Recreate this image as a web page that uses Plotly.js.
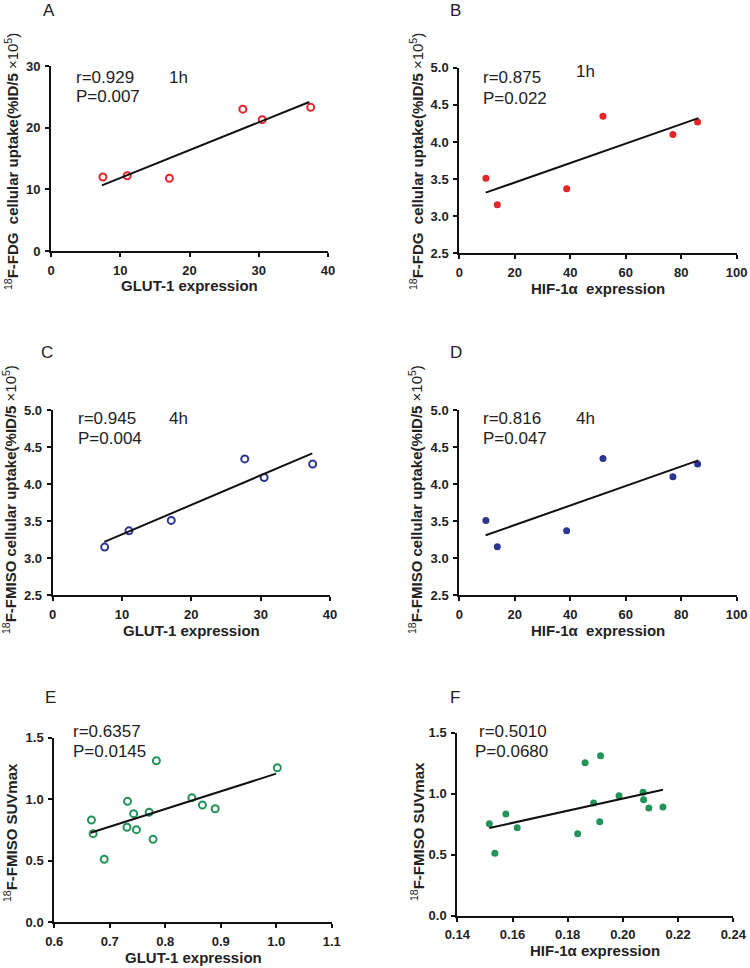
<!DOCTYPE html>
<html>
<head>
<meta charset="utf-8">
<script src="https://cdn.plot.ly/plotly-3.0.1.min.js"></script>
<style>
  body { margin: 0; background: #fff; }
  #chart { width: 750px; height: 968px; }
</style>
</head>
<body>
<div id="chart"></div>
<script>
// GLUT-1 / HIF-1a expression vs uptake
const glutX = [7.5, 11, 17.1, 27.7, 30.5, 37.5];
const fdgY = [12, 12.2, 11.8, 23, 21.3, 23.3];
const fmisoGlutY = [3.15, 3.37, 3.51, 4.34, 4.09, 4.27];

const hifX = [9.6, 13.7, 38.7, 51.8, 77.0, 85.9];
const fdgHifY = [3.51, 3.155, 3.37, 4.345, 4.10, 4.27];
const fmisoHifY = [3.51, 3.155, 3.37, 4.345, 4.10, 4.27];

const suvGlutX = [0.667, 0.670, 0.690, 0.732, 0.731, 0.743, 0.748, 0.771, 0.778, 0.784, 0.848, 0.867, 0.890, 1.002];
const suvGlutY = [0.831, 0.720, 0.512, 0.983, 0.772, 0.883, 0.753, 0.894, 0.674, 1.313, 1.013, 0.953, 0.923, 1.256];

const suvHifX = [0.1516, 0.1536, 0.1576, 0.1617, 0.1836, 0.1863, 0.1894, 0.1919, 0.1916, 0.1986, 0.2073, 0.2075, 0.2094, 0.2145];
const suvHifY = [0.754, 0.511, 0.833, 0.721, 0.672, 1.254, 0.923, 1.311, 0.770, 0.984, 1.011, 0.951, 0.883, 0.891];

// fitted line end points as drawn in the figure
const fitAX = [7.35, 37.3], fitAY = [10.65, 24.16];
const fitBX = [9.5, 86.2], fitBY = [3.317, 4.32];
const fitCX = [7.45, 37.45], fitCY = [3.22, 4.415];
const fitDX = [9.5, 86.2], fitDY = [3.31, 4.32];
const fitEX = [0.6655, 1.0], fitEY = [0.728, 1.208];
const fitFX = [0.1516, 0.2145], fitFY = [0.719, 1.033];

// tick labels
const glutTicks = ["0", "10", "20", "30", "40"];
const hifTicks = ["0", "20", "40", "60", "80", "100"];
const uptakeTicks = ["0", "10", "20", "30"];
const ratioTicks = ["2.5", "3.0", "3.5", "4.0", "4.5", "5.0"];
const suvTicks = ["0.0", "0.5", "1.0", "1.5"];
const suvGlutTicks = ["0.6", "0.7", "0.8", "0.9", "1.0", "1.1"];
const suvHifTicks = ["0.14", "0.16", "0.18", "0.20", "0.22", "0.24"];

const panelLetters = ["A", "B", "C", "D", "E", "F"];
const rTexts = ["r=0.929", "r=0.875", "r=0.945", "r=0.816", "r=0.6357", "r=0.5010"];
const pTexts = ["P=0.007", "P=0.022", "P=0.004", "P=0.047", "P=0.0145", "P=0.0680"];
const timeTexts = ["1h", "1h", "4h", "4h", "", ""];

const RED = "#e3262c", BLUE = "#2d3592", GREEN = "#22945a";
const FONT = "Arial, 'Liberation Sans', sans-serif";

const W = 750, H = 968;
const px = (x) => x / W;
const py = (y) => 1 - y / H;

var data = [];
function addPanel(n, xs, ys, fx, fy, color, open) {
  var sfx = n == 1 ? "" : n;
  data.push({
    x: xs, y: ys, xaxis: "x" + sfx, yaxis: "y" + sfx,
    type: "scatter", mode: "markers", cliponaxis: false,
    marker: open
      ? { symbol: "circle-open", size: 7, color: color, line: { width: 2, color: color } }
      : { symbol: "circle", size: 7, color: color }
  });
  data.push({
    x: fx, y: fy, xaxis: "x" + sfx, yaxis: "y" + sfx,
    type: "scatter", mode: "lines",
    line: { color: "#111", width: 2 }
  });
}

addPanel(1, glutX, fdgY, fitAX, fitAY, RED, true);
addPanel(2, hifX, fdgHifY, fitBX, fitBY, RED, false);
addPanel(3, glutX, fmisoGlutY, fitCX, fitCY, BLUE, true);
addPanel(4, hifX, fmisoHifY, fitDX, fitDY, BLUE, false);
addPanel(5, suvGlutX, suvGlutY, fitEX, fitEY, GREEN, true);
addPanel(6, suvHifX, suvHifY, fitFX, fitFY, GREEN, false);

function axis(domain, range, labels, anchor) {
  return {
    domain: domain, range: range, anchor: anchor,
    tickmode: "array",
    tickvals: labels.map(Number),
    ticktext: labels.map((t) => "<b>" + t + "</b>"),
    showgrid: false, zeroline: false, showline: true,
    linecolor: "#111", linewidth: 2,
    ticks: "outside", ticklen: 4, tickwidth: 2, tickcolor: "#111",
    ticklabelstandoff: 2,
    tickfont: { family: FONT, size: 13, color: "#222" },
    fixedrange: true
  };
}

// plot boxes (pixels)
const boxes = [
  [51, 328, 66, 251],
  [459.3, 736.7, 67.7, 253.3],
  [52.7, 330, 410, 595.3],
  [459.3, 736.7, 410, 595.3],
  [54.3, 331.7, 737.7, 922.3],
  [457.3, 733.3, 732.7, 915.7]
];
const xRanges = [[0, 40], [0, 100], [0, 40], [0, 100], [0.6, 1.1], [0.14, 0.24]];
const yRanges = [[0, 30], [2.5, 5], [2.5, 5], [2.5, 5], [0, 1.5], [0, 1.5]];
const xLabels = [glutTicks, hifTicks, glutTicks, hifTicks, suvGlutTicks, suvHifTicks];
const yLabels = [uptakeTicks, ratioTicks, ratioTicks, ratioTicks, suvTicks, suvTicks];

const xTitles = ["GLUT-1 expression", "HIF-1α  expression", "GLUT-1 expression",
  "HIF-1α  expression", "GLUT-1 expression", "HIF-1α expression"];
const yTitles = [
  "<sup>18</sup><b>F-FDG  cellular uptake(%ID/5</b> ×10<sup>5</sup>)",
  "<sup>18</sup><b>F-FDG  cellular uptake(%ID/5</b> ×10<sup>5</sup>)",
  "<sup>18</sup><b>F-FMISO cellular uptake(%ID/5</b> ×10<sup>5</sup>)",
  "<sup>18</sup><b>F-FMISO cellular uptake(%ID/5</b> ×10<sup>5</sup>)",
  "<sup>18</sup><b>F-FMISO SUVmax</b>",
  "<sup>18</sup><b>F-FMISO SUVmax</b>"
];

var layout = {
  width: W, height: H,
  margin: { l: 0, r: 0, t: 0, b: 0 },
  paper_bgcolor: "#fff", plot_bgcolor: "#fff",
  showlegend: false,
  font: { family: FONT, color: "#222" },
  annotations: []
};

// label positions (pixels)
const letterPos = [[41, 11], [448, 10], [39, 352], [448, 352], [43, 697], [448, 697]];
const statPos = [[74, 77, 97], [481, 77, 98], [76, 418, 438], [481, 418, 438], [71, 731, 751], [477, 731, 751]];
const timePos = [[167, 77], [574, 72], [167, 418], [574, 418], [0, 0], [0, 0]];
const yTitlePos = [[11, 162], [416, 162], [10, 500], [416, 500], [10, 833], [417, 832]];

for (let i = 0; i < 6; i++) {
  const sfx = i == 0 ? "" : i + 1;
  const b = boxes[i];
  layout["xaxis" + sfx] = axis([px(b[0]), px(b[1])], xRanges[i], xLabels[i], "y" + sfx);
  layout["yaxis" + sfx] = axis([py(b[3]), py(b[2])], yRanges[i], yLabels[i], "x" + sfx);

  const ann = (text, x, y, opts) => Object.assign({
    text: text, x: px(x), y: py(y), xref: "paper", yref: "paper",
    xanchor: "left", yanchor: "middle", showarrow: false,
    font: { family: FONT, size: 17, color: "#222" }
  }, opts || {});

  layout.annotations.push(ann(panelLetters[i], letterPos[i][0], letterPos[i][1]));
  layout.annotations.push(ann(rTexts[i], statPos[i][0], statPos[i][1]));
  layout.annotations.push(ann(pTexts[i], i == 5 ? 473 : statPos[i][0], statPos[i][2]));
  if (timeTexts[i]) layout.annotations.push(ann(timeTexts[i], timePos[i][0], timePos[i][1]));
  layout.annotations.push(ann("<b>" + xTitles[i] + "</b>", (b[0] + b[1]) / 2, b[3] + 35,
    { xanchor: "center", font: { family: FONT, size: 15, color: "#222" } }));
  layout.annotations.push(ann(yTitles[i], yTitlePos[i][0], yTitlePos[i][1],
    { xanchor: "center", textangle: -90, font: { family: FONT, size: 15, color: "#222" } }));
}

Plotly.newPlot("chart", data, layout, { displayModeBar: false, staticPlot: true });
</script>
</body>
</html>
